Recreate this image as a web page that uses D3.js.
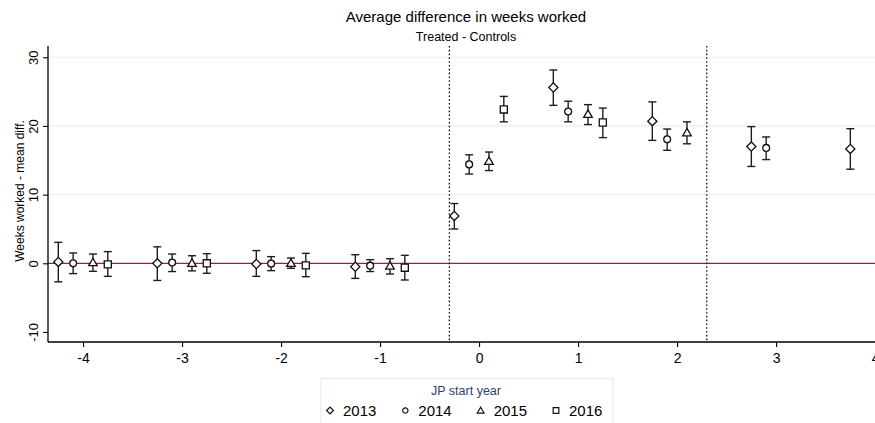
<!DOCTYPE html>
<html>
<head>
<meta charset="utf-8">
<script src="https://cdn.jsdelivr.net/npm/d3@7"></script>
<style>
  html, body { margin: 0; padding: 0; background: #fff; }
  svg { display: block; font-family: "Liberation Sans", Arial, sans-serif; }
</style>
</head>
<body>
<svg id="chart" width="875" height="423"></svg>
<script>
// ---- Data ----
const seriesNames = ["2013", "2014", "2015", "2016"];
const xTicks = [-4, -3, -2, -1, 0, 1, 2, 3, 4];
const yTicks = [-10, 0, 10, 20, 30];
const yGrid = [10, 20, 30];
const cutoffs = [-0.3, 2.3];

// event time for each series
const time2013 = [-4, -3, -2, -1, 0, 1, 2, 3, 4];
const est2013  = [0.2, 0.0, -0.1, -0.5, 6.9, 25.6, 20.7, 17.0, 16.65];
const lo2013   = [-2.7, -2.5, -1.9, -2.2, 5.0, 23.0, 17.9, 14.1, 13.7];
const hi2013   = [3.05, 2.4, 1.85, 1.25, 8.7, 28.15, 23.5, 19.9, 19.6];

const time2014 = [-4, -3, -2, -1, 0, 1, 2, 3];
const est2014  = [0.0, 0.1, -0.05, -0.35, 14.4, 22.1, 18.05, 16.8];
const lo2014   = [-1.5, -1.2, -1.07, -1.2, 13.0, 20.6, 16.45, 15.1];
const hi2014   = [1.5, 1.35, 0.97, 0.53, 15.8, 23.6, 19.55, 18.4];

const time2015 = [-4, -3, -2, -1, 0, 1, 2];
const est2015  = [0.1, 0.0, 0.0, -0.4, 14.85, 21.7, 19.0];
const lo2015   = [-1.17, -1.1, -0.73, -1.56, 13.5, 20.2, 17.4];
const hi2015   = [1.35, 1.1, 0.77, 0.67, 16.2, 23.1, 20.6];

const time2016 = [-4, -3, -2, -1, 0, 1];
const est2016  = [-0.15, 0.0, -0.3, -0.64, 22.4, 20.5];
const lo2016   = [-1.9, -1.45, -1.95, -2.43, 20.6, 18.3];
const hi2016   = [1.7, 1.4, 1.45, 1.16, 24.3, 22.6];

// ---- Layout / style ----
const offsets = { "2013": -0.25, "2014": -0.1, "2015": 0.1, "2016": 0.25 };
const symbolTypes = { "2013": "diamond", "2014": "circle", "2015": "triangle", "2016": "square" };

const series = [
  { name: "2013", t: time2013, est: est2013, lo: lo2013, hi: hi2013 },
  { name: "2014", t: time2014, est: est2014, lo: lo2014, hi: hi2014 },
  { name: "2015", t: time2015, est: est2015, lo: lo2015, hi: hi2015 },
  { name: "2016", t: time2016, est: est2016, lo: lo2016, hi: hi2016 }
];
const points = [];
series.forEach(s => s.t.forEach((t, i) => points.push({
  name: s.name, x: t + offsets[s.name], est: s.est[i], lo: s.lo[i], hi: s.hi[i]
})));

const svg = d3.select("#chart");
const plotLeft = 48, plotRight = 884, plotTop = 46, plotBottom = 342;

const x = d3.scaleLinear().domain([-4.354, 4.09]).range([plotLeft, plotRight]);
const y = d3.scaleLinear().domain([-11.46, 31.64]).range([plotBottom, plotTop]);

function symbolPath(type, big) {
  const sizes = big
    ? { diamond: 42, circle: 37, triangle: 32, square: 50 }
    : { diamond: 24, circle: 22, triangle: 20, square: 32 };
  const map = { diamond: d3.symbolSquare, circle: d3.symbolCircle, triangle: d3.symbolTriangle, square: d3.symbolSquare };
  return d3.symbol().type(map[type]).size(sizes[type])();
}
function symbolTransform(type, cx, cy) {
  if (type === "diamond") return `translate(${cx},${cy}) rotate(45)`;
  if (type === "triangle") return `translate(${cx},${cy + 0.6})`;
  return `translate(${cx},${cy})`;
}

// Title
svg.append("text").attr("x", 466).attr("y", 21.5).attr("text-anchor", "middle")
  .attr("font-size", 15).attr("fill", "#000").text("Average difference in weeks worked");
svg.append("text").attr("x", 466).attr("y", 40.5).attr("text-anchor", "middle")
  .attr("font-size", 12.5).attr("fill", "#000").text("Treated - Controls");

// Gridlines
svg.append("g").selectAll("line").data(yGrid).join("line")
  .attr("x1", plotLeft).attr("x2", plotRight)
  .attr("y1", d => y(d)).attr("y2", d => y(d))
  .attr("stroke", "#e8f0f2").attr("stroke-width", 1.2);

// Zero line
svg.append("line").attr("x1", plotLeft).attr("x2", plotRight)
  .attr("y1", y(0)).attr("y2", y(0))
  .attr("stroke", "#b8123c").attr("stroke-width", 1.3);

// Dotted cutoff lines
svg.append("g").selectAll("line").data(cutoffs).join("line")
  .attr("x1", d => x(d)).attr("x2", d => x(d))
  .attr("y1", plotTop).attr("y2", plotBottom)
  .attr("stroke", "#000").attr("stroke-width", 1.2).attr("stroke-dasharray", "1.6,2.2");

// Error bars
const capHalf = 4;
const eb = svg.append("g").attr("stroke", "#1e1e1e").attr("stroke-width", 1.4).attr("fill", "none");
eb.selectAll("line.v").data(points).join("line").attr("class", "v")
  .attr("x1", d => x(d.x)).attr("x2", d => x(d.x))
  .attr("y1", d => y(d.lo)).attr("y2", d => y(d.hi));
eb.selectAll("line.ch").data(points).join("line").attr("class", "ch")
  .attr("x1", d => x(d.x) - capHalf).attr("x2", d => x(d.x) + capHalf)
  .attr("y1", d => y(d.hi)).attr("y2", d => y(d.hi));
eb.selectAll("line.cl").data(points).join("line").attr("class", "cl")
  .attr("x1", d => x(d.x) - capHalf).attr("x2", d => x(d.x) + capHalf)
  .attr("y1", d => y(d.lo)).attr("y2", d => y(d.lo));

// Markers
svg.append("g").selectAll("path").data(points).join("path")
  .attr("d", d => symbolPath(symbolTypes[d.name], true))
  .attr("transform", d => symbolTransform(symbolTypes[d.name], x(d.x), y(d.est)))
  .attr("fill", "#fff").attr("stroke", "#111").attr("stroke-width", 1.3);

// Axes
const yAxis = svg.append("g").attr("transform", `translate(${plotLeft},0)`)
  .call(d3.axisLeft(y).tickValues(yTicks).tickSize(5).tickFormat(d3.format("d")));
yAxis.select(".domain").attr("d", `M0,${plotTop}V${plotBottom}`).attr("stroke", "#000").attr("stroke-width", 1.3);
yAxis.selectAll(".tick line").attr("stroke", "#000").attr("stroke-width", 1.1);
yAxis.selectAll(".tick text")
  .attr("transform", "rotate(-90)").attr("x", 0).attr("y", -10).attr("dy", 0)
  .attr("text-anchor", "middle").attr("font-size", 13).attr("fill", "#000")
  .attr("font-family", "Liberation Sans, Arial, sans-serif");

const xAxis = svg.append("g").attr("transform", `translate(0,${plotBottom})`)
  .call(d3.axisBottom(x).tickValues(xTicks).tickSize(5).tickFormat(d3.format("d")));
xAxis.select(".domain").attr("d", `M${plotLeft},0H${plotRight}`).attr("stroke", "#000").attr("stroke-width", 1.3);
xAxis.selectAll(".tick line").attr("stroke", "#000").attr("stroke-width", 1.1);
xAxis.selectAll(".tick text").attr("y", 21).attr("dy", 0).attr("font-size", 14).attr("fill", "#000")
  .attr("font-family", "Liberation Sans, Arial, sans-serif");
// use a hyphen-minus like the reference
xAxis.selectAll(".tick text").text(d => String(d));
yAxis.selectAll(".tick text").text(d => String(d));

// Y axis title
svg.append("text").attr("transform", "translate(24,191) rotate(-90)")
  .attr("text-anchor", "middle").attr("font-size", 12).attr("fill", "#000")
  .text("Weeks worked - mean diff.");

// Legend
const legend = svg.append("g");
legend.append("rect").attr("x", 321).attr("y", 378.5).attr("width", 292).attr("height", 60)
  .attr("fill", "#fff").attr("stroke", "#e4eef0").attr("stroke-width", 1.2);
legend.append("text").attr("x", 466).attr("y", 394.5).attr("text-anchor", "middle")
  .attr("font-size", 12.5).attr("fill", "#2c3f72").text("JP start year");
const legX = d3.scalePoint().domain(seriesNames).range([330, 556]);
const items = legend.selectAll("g.item").data(seriesNames).join("g").attr("class", "item");
items.append("path")
  .attr("d", d => symbolPath(symbolTypes[d], false))
  .attr("transform", d => symbolTransform(symbolTypes[d], legX(d), 410.5))
  .attr("fill", "#fff").attr("stroke", "#111").attr("stroke-width", 1.2);
items.append("text").attr("x", d => legX(d) + 13).attr("y", 416)
  .attr("font-size", 15).attr("fill", "#000").text(d => d);
</script>
</body>
</html>
